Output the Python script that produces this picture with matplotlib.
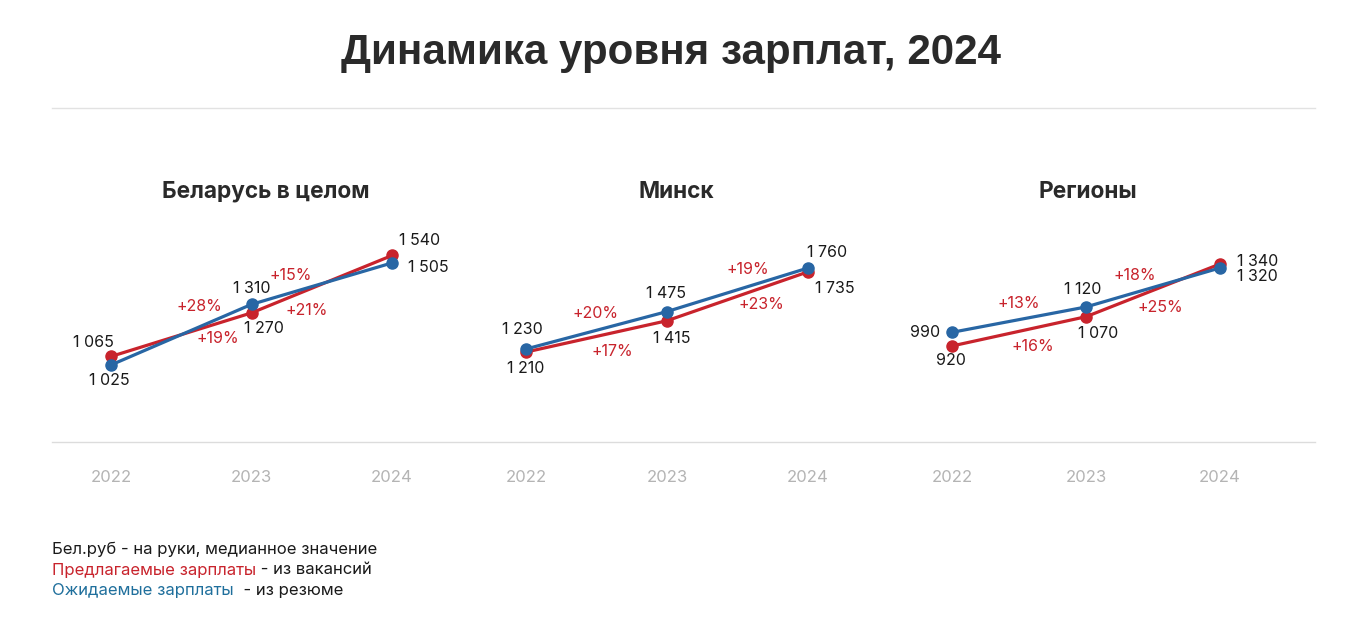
import matplotlib
matplotlib.use("Agg")
import matplotlib.pyplot as plt
from matplotlib.lines import Line2D

plt.rcParams['font.family'] = ['Inter', 'DejaVu Sans']

years = ["2022", "2023", "2024"]
panel_titles = ["Беларусь в целом", "Минск", "Регионы"]
offered = [[1065, 1270, 1540], [1210, 1415, 1735], [920, 1070, 1340]]   # red
expected = [[1025, 1310, 1505], [1230, 1475, 1760], [990, 1120, 1320]]  # blue

RED = "#c8232c"
BLUE = "#2866a4"
W, H = 1361, 636
fig = plt.figure(figsize=(W / 100, H / 100), dpi=100)

# layout (pixels)
ax_left = [54.8, 469.6, 898.4]
ax_spacing = [140.5, 141.0, 134.0]
ylims = [(662.6, 1801), (621.4, 2205), (428, 1668)]
top_px, bot_px = 200, 442

# label offsets in pixels (dx, dy up)
red_off = [[(-18, 14), (12, -16), (28, 15)],
           [(0, -16), (5, -18), (27, -17)],
           [(-1, -15), (12, -17), (38, 3)]]
blue_off = [[(-2, -16), (0, 16), (36, -5)],
            [(-4, 19), (-1, 18), (19, 16)],
            [(-27, 0), (-3, 17), (37, -9)]]
pct_blue_off = [[(18.5, 28), (-31, 8)],
                [(-1.5, 16.5), (10, 20)],
                [(0, 16.5), (-18, 12)]]
pct_red_off = [[(36.5, -4), (-15, -26.5)],
               [(15.5, -15), (24, -8)],
               [(14, -15), (7.5, -17)]]
title_x = [266, 676, 1088]

def fmt(v):
    s = f"{v:,}".replace(",", " ")
    return s

for i in range(3):
    w = 2.8 * ax_spacing[i]
    ax = fig.add_axes([ax_left[i] / W, 1 - bot_px / H, w / W, (bot_px - top_px) / H])
    ax.set_facecolor("none")
    ax.set_xlim(-0.4, 2.4)
    ax.set_ylim(*ylims[i])
    for s in ax.spines.values():
        s.set_visible(False)
    ax.set_yticks([])
    ax.set_xticks(range(3))
    ax.set_xticklabels(years, color="#b4b4b4", fontsize=12)
    ax.tick_params(axis="x", length=0, pad=20)
    x = list(range(3))
    ax.plot(x, offered[i], color=RED, lw=2.3, marker="o", ms=8, zorder=3, solid_capstyle="round")
    ax.plot(x, expected[i], color=BLUE, lw=2.3, marker="o", ms=8, zorder=4, solid_capstyle="round")
    for j in range(3):
        ax.annotate(fmt(offered[i][j]), (x[j], offered[i][j]), xytext=red_off[i][j],
                    textcoords="offset pixels", ha="center", va="center", fontsize=11.5, color="#1a1a1a")
        ax.annotate(fmt(expected[i][j]), (x[j], expected[i][j]), xytext=blue_off[i][j],
                    textcoords="offset pixels", ha="center", va="center", fontsize=11.5, color="#1a1a1a")
    for j in range(2):
        for series, offs in ((expected[i], pct_blue_off[i]), (offered[i], pct_red_off[i])):
            pct = round((series[j + 1] / series[j] - 1) * 100)
            mx = (x[j] + x[j + 1]) / 2
            my = (series[j] + series[j + 1]) / 2
            ax.annotate(f"+{pct}%", (mx, my), xytext=offs[j], textcoords="offset pixels",
                        ha="center", va="center", fontsize=11.5, color=RED)
    fig.text(title_x[i] / W, 1 - 192 / H, panel_titles[i], ha="center", va="center",
             fontsize=16.3, fontweight="bold", color="#2a2a2a")

# title and separators
fig.text(671 / W, 1 - 53 / H, "Динамика уровня зарплат, 2024", ha="center", va="center",
         fontsize=30.3, fontweight="bold", color="#2a2a2a", family=["Liberation Sans", "DejaVu Sans"])
fig.add_artist(Line2D([52 / W, 1315 / W], [1 - 108 / H] * 2, color="#e2e2e2", lw=1))
fig.add_artist(Line2D([52 / W, 1315 / W], [1 - 442 / H] * 2, color="#dcdcdc", lw=1))

# footnote
fs = 12
fig.text(52 / W, 1 - 549 / H, "Бел.руб - на руки, медианное значение", ha="left", va="center",
         fontsize=fs, color="#1a1a1a")
t = fig.text(52 / W, 1 - 570 / H, "Предлагаемые зарплаты", ha="left", va="center", fontsize=fs, color=RED)
fig.canvas.draw()
bb = t.get_window_extent()
fig.text(bb.x1 / W, 1 - 570 / H, " - из вакансий", ha="left", va="center", fontsize=fs, color="#1a1a1a")
t2 = fig.text(52 / W, 1 - 591 / H, "Ожидаемые зарплаты", ha="left", va="center", fontsize=fs, color="#1f6f9c")
fig.canvas.draw()
bb2 = t2.get_window_extent()
fig.text(bb2.x1 / W, 1 - 591 / H, "  - из резюме", ha="left", va="center", fontsize=fs, color="#1a1a1a")

fig.savefig("out.png", dpi=100, facecolor="white")
